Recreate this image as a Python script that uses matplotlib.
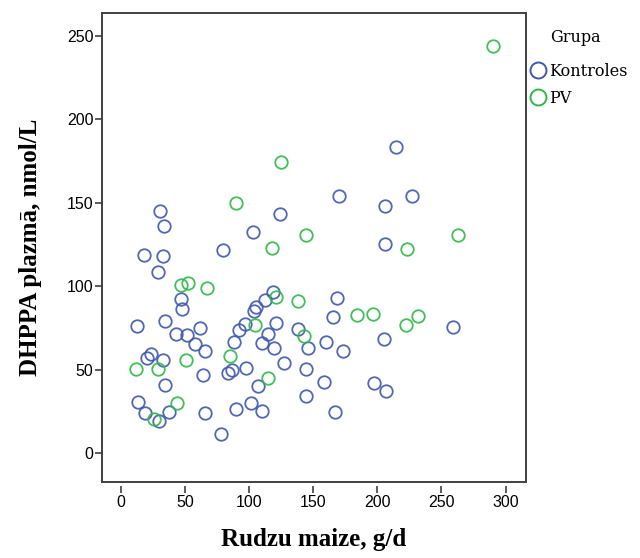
import numpy as np
import matplotlib
matplotlib.use('Agg')
import matplotlib.pyplot as plt
from matplotlib.lines import Line2D

# Rudzu maize (g/d) un DHPPA plazmā (nmol/L) pa grupām
kontroles_x = [214.5, 30.3, 33.5, 123.8, 170.2, 206.1, 227.2, 103.0, 205.9, 79.8,
               17.8, 32.7, 29.0, 47.0, 48.0, 118.9, 112.1, 105.1, 104.1, 168.9,
               165.8, 259.2, 12.9, 34.2, 43.1, 51.4, 61.6, 58.2, 66.0, 96.5,
               92.0, 88.1, 120.7, 114.7, 109.8, 119.7, 138.4, 145.7, 160.0, 173.6,
               205.1, 23.6, 20.5, 32.7, 98.0, 86.9, 83.5, 64.2, 127.2, 144.1,
               107.2, 158.7, 197.8, 206.9, 34.8, 13.2, 18.6, 37.6, 29.6, 65.5,
               90.0, 101.7, 110.0, 144.1, 166.8, 78.5]
kontroles_y = [183.3, 145.3, 136.1, 143.5, 154.1, 148.1, 154.1, 132.5, 125.3, 121.5,
               118.7, 118.1, 108.5, 92.5, 86.1, 96.5, 91.7, 87.3, 85.3, 92.7,
               81.4, 75.4, 76.1, 79.0, 71.3, 70.7, 74.7, 65.3, 61.3, 77.3,
               73.7, 66.4, 78.1, 71.2, 65.8, 63.1, 74.3, 63.1, 66.7, 61.2,
               68.3, 59.2, 57.1, 55.6, 51.2, 49.8, 47.8, 46.9, 54.0, 50.4,
               40.3, 42.6, 41.8, 37.2, 40.6, 30.8, 24.2, 24.6, 19.0, 24.2,
               26.4, 30.2, 25.4, 34.4, 24.6, 11.2]

pv_x = [290.0, 125.1, 89.5, 144.7, 263.1, 222.8, 117.8, 47.0, 52.2, 67.3,
        121.2, 137.9, 184.5, 196.7, 231.6, 222.3, 104.5, 143.1, 12.1, 29.3,
        51.2, 85.0, 114.7, 44.1, 26.2]
pv_y = [244.0, 174.6, 149.7, 130.7, 130.7, 122.1, 122.7, 100.7, 101.7, 98.7,
        93.5, 91.3, 82.7, 83.2, 82.1, 76.6, 76.6, 70.0, 50.2, 50.2,
        55.8, 58.0, 45.2, 30.0, 20.6]

groups = ['Kontroles', 'PV']
colors = ['#3E58AC', '#2EB848']
x_ticks = [0, 50, 100, 150, 200, 250, 300]
y_ticks = [0, 50, 100, 150, 200, 250]

fig = plt.figure(figsize=(6.4, 5.58), dpi=100)
ax = fig.add_axes([0.159, 0.136, 0.663, 0.841])

for xs, ys, c in [(kontroles_x, kontroles_y, colors[0]), (pv_x, pv_y, colors[1])]:
    ax.plot(xs, ys, 'o', ls='none', mfc='none', mec=c, ms=9, mew=1.3, alpha=0.9)

ax.set_xlim(-14.8, 316)
ax.set_ylim(-17.4, 263.8)

for s in ax.spines.values():
    s.set_color('#404040')
    s.set_linewidth(1.4)

# y ticks on the frame, x ticks drawn on a slightly detached axis
ax.set_yticks(y_ticks)
ax.tick_params(axis='y', direction='out', length=5, width=1.2, color='#404040',
               labelsize=11.5, pad=1)
for lab in ax.get_yticklabels():
    lab.set_fontfamily('Liberation Sans')

ax.set_xticks([])
sec = ax.secondary_xaxis(-0.008)
sec.set_xticks(x_ticks)
sec.spines['bottom'].set_visible(False)
sec.tick_params(axis='x', direction='out', length=5, width=1.2, color='#404040',
                labelsize=11.5, pad=1.5)
for lab in sec.get_xticklabels():
    lab.set_fontfamily('Liberation Sans')

label_font = dict(family='Liberation Serif', weight='bold', size=18)
sec.set_xlabel('Rudzu maize, g/d', labelpad=13, **label_font)
ax.set_ylabel('DHPPA plazmā, nmol/L', labelpad=18, **label_font)

# legend outside the frame on the right
fig.text(575 / 640, 1 - 38 / 558, 'Grupa', ha='center', va='center',
         family='DejaVu Serif', size=11.5)
handles = [Line2D([], [], marker='o', ls='none', mfc='none', mec=c, ms=11.5, mew=1.4)
           for c in colors]
fig.legend(handles, groups, loc='upper left',
           bbox_to_anchor=(526 / 640, 1 - 63 / 558), frameon=False,
           prop=dict(family='DejaVu Serif', size=11.5),
           handletextpad=0.0, handlelength=1.45, labelspacing=0.6,
           borderaxespad=0, borderpad=0)

fig.savefig('out.png', dpi=100)
